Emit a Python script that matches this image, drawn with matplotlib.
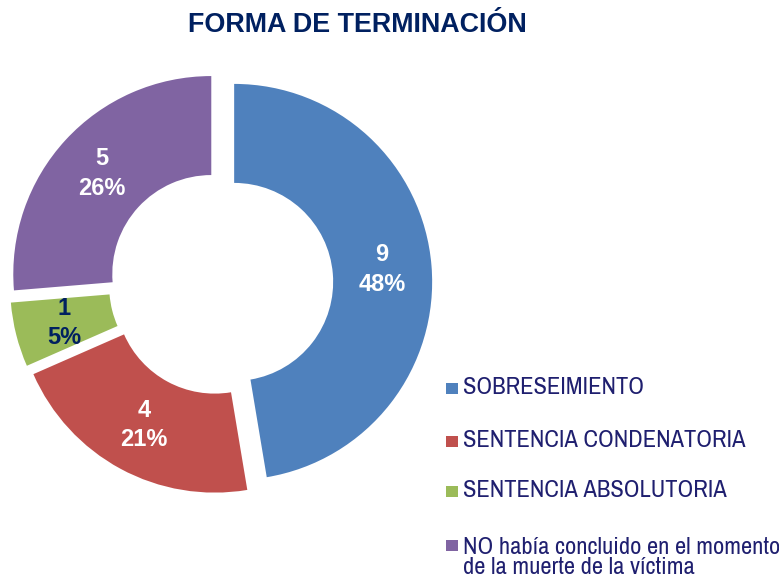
import matplotlib
matplotlib.use("Agg")
import matplotlib.pyplot as plt
from matplotlib.patches import Rectangle

# Case outcomes
categories = [
    "SOBRESEIMIENTO",
    "SENTENCIA CONDENATORIA",
    "SENTENCIA ABSOLUTORIA",
    "NO había concluido en el momento\nde la muerte de la víctima",
]
counts = [9, 4, 1, 5]
percents = [48, 21, 5, 26]

colors = ["#4F81BD", "#C0504D", "#9BBB59", "#8064A2"]
label_colors = ["white", "white", "#002060", "white"]

W, H = 779, 580
fig = plt.figure(figsize=(W / 100, H / 100), dpi=100)
ax = fig.add_axes([0, 0, 1, 1])

narrow = ["Archivo Narrow", "Liberation Sans", "DejaVu Sans"]
bold = ["Liberation Sans", "DejaVu Sans"]

# axes units are pixels, y measured upward
radius = 198
wedges, texts = ax.pie(
    counts,
    labels=[f"{c}\n{p}%" for c, p in zip(counts, percents)],
    colors=colors,
    startangle=90,
    counterclock=False,
    center=(221, H - 283),
    radius=radius,
    explode=[13.2] * len(counts),
    labeldistance=0.75,
    wedgeprops=dict(width=99, linewidth=0),
    frame=True,
)
ax.set_xlim(0, W)
ax.set_ylim(0, H)
ax.set_aspect("equal")
ax.axis("off")

for t, c in zip(texts, label_colors):
    t.set_color(c)
    t.set_fontsize(17)
    t.set_fontweight("bold")
    t.set_family(bold)
    t.set_ha("center")
    t.set_va("center")
    t.set_linespacing(1.35)

ax.text(357, H - 25, "FORMA DE TERMINACIÓN", ha="center", va="center",
        fontsize=19.4, fontweight="bold", color="#002060", family=bold)

# legend drawn by hand so the square sits on the first text line
rows = [394, 447, 497, 551]
line_gap = 23
for y, col, name in zip(rows, colors, categories):
    ax.add_patch(Rectangle((446, H - y), 12, 11, facecolor=col, edgecolor="none"))
    # baseline alignment uses the last line of a multi-line text
    y_text = y + line_gap * name.count("\n")
    ax.text(463, H - y_text, name, ha="left", va="baseline",
            fontsize=17.6, color="#1F1F6F", family=narrow, linespacing=0.95)

fig.savefig("out.png", dpi=100)
